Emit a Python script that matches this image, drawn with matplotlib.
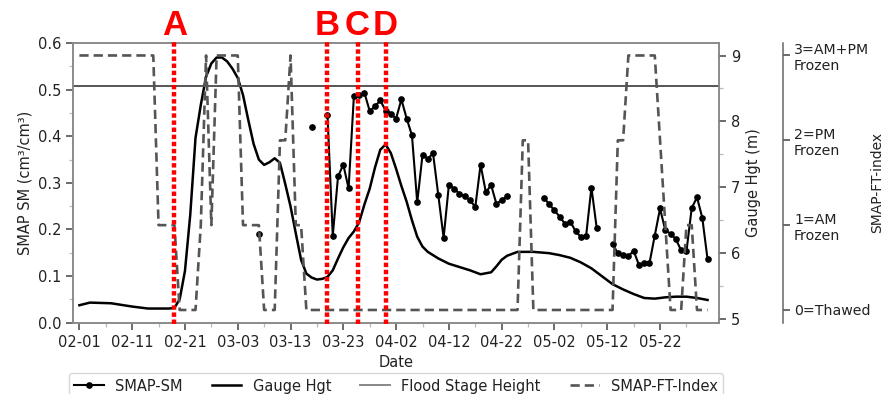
import numpy as np
import matplotlib
matplotlib.use("Agg")
import matplotlib.pyplot as plt
from matplotlib.lines import Line2D
import matplotlib.transforms as mtransforms

plt.rcParams['font.family'] = ['DejaVu Sans']
plt.rcParams['font.size'] = 10.5

# ---------------- data ----------------
start_date = '2017-02-01'

# SMAP soil moisture (cm3/cm3), day offsets from start_date
sm_days = [34, 44, 47, 48, 49, 50, 51, 52, 53, 54, 55, 56, 57, 58, 59, 60, 61, 62, 63, 64,
           65, 66, 67, 68, 69, 70, 71, 72, 73, 74, 75, 76, 77, 78, 79, 80, 81,
           88, 89, 90, 91, 92, 93, 94, 95, 96, 97, 98,
           101, 102, 103, 104, 105, 106, 107, 108, 109, 110, 111, 112, 113, 114, 115, 116, 117, 118, 119]
sm_vals = [0.190, 0.420, 0.445, 0.187, 0.314, 0.339, 0.288, 0.486, 0.488, 0.493, 0.454, 0.464, 0.477,
           0.455, 0.447, 0.438, 0.479, 0.438, 0.402, 0.258,
           0.360, 0.352, 0.363, 0.273, 0.182, 0.296, 0.287, 0.277, 0.271, 0.263, 0.248, 0.339, 0.280,
           0.295, 0.255, 0.263, 0.271,
           0.268, 0.254, 0.241, 0.227, 0.212, 0.217, 0.196, 0.184, 0.187, 0.290, 0.203,
           0.169, 0.149, 0.146, 0.143, 0.154, 0.124, 0.128, 0.128, 0.187, 0.245, 0.198, 0.191, 0.179,
           0.155, 0.153, 0.246, 0.269, 0.225, 0.136]

# Gauge height (m)
gauge_days = [0, 2, 6, 10, 13, 17, 18, 19, 20, 21, 22, 23, 24, 25, 26, 27, 28, 29, 30, 31, 32, 33,
              34, 35, 36, 37, 38, 39, 40, 41, 42, 43, 44, 45, 46, 47, 48, 49, 50, 51, 52, 53, 54,
              55, 56, 57, 58, 59, 60, 61, 62, 63, 64, 65, 66, 68, 70, 72, 74, 76, 78, 79, 80, 81,
              83, 86, 89, 91, 93, 95, 97, 99, 101, 103, 105, 107, 109, 111, 113, 115, 117, 119]
gauge_vals = [5.21, 5.25, 5.24, 5.19, 5.16, 5.16,
              5.17, 5.30, 5.73, 6.58, 7.75, 8.25, 8.68, 8.88, 8.97, 8.97,
              8.91, 8.80, 8.66, 8.40, 8.02, 7.66, 7.42, 7.34, 7.38, 7.44,
              7.37, 7.05, 6.71, 6.30, 5.90, 5.69, 5.63, 5.60, 5.61, 5.64,
              5.74, 5.92, 6.09, 6.23, 6.33, 6.47, 6.74, 6.98, 7.30, 7.57,
              7.65, 7.52, 7.28, 7.02, 6.78, 6.50, 6.25, 6.10, 6.02,
              5.92, 5.84, 5.79, 5.74, 5.68, 5.71, 5.80, 5.90, 5.96, 6.02, 6.02, 6.00, 5.97, 5.93,
              5.86, 5.77, 5.65, 5.53, 5.45, 5.38, 5.32, 5.31, 5.33, 5.34, 5.34, 5.32, 5.29]

flood_stage = 8.54

# SMAP freeze/thaw index, daily from start_date, as runs: level and number of days
ft_levels = [3, 1, 0, 1, 3, 1, 3, 1, 0, 2, 3, 1, 0, 2, 0, 2, 3, 2, 1, 0, 1, 0]
ft_run_days = [15, 4, 4, 1, 1, 1, 5, 4, 3, 2, 1, 2, 41, 2, 16, 2, 6, 1, 1, 3, 2, 3]

ft_tick_vals = [0, 1, 2, 3]
ft_tick_labels = ['0=Thawed', '1=AM\nFrozen', '2=PM\nFrozen', '3=AM+PM\nFrozen']

x_tick_labels = ['02-01', '02-11', '02-21', '03-03', '03-13', '03-23', '04-02',
                 '04-12', '04-22', '05-02', '05-12', '05-22']

event_labels = ['A', 'B', 'C', 'D']
event_dates = ['2017-02-19T00', '2017-03-20T00', '2017-03-25T17', '2017-03-31T00']

# ---------------- helpers ----------------
base = np.datetime64(start_date, 'h')


def days_to_dt(days):
    hrs = np.round(np.asarray(days, dtype=float) * 24).astype('int64')
    return base + hrs.astype('timedelta64[h]')


# break SM line at gaps
sm_x, sm_y = [], []
prev = None
for d, v in zip(sm_days, sm_vals):
    if prev is not None and d - prev > 1:
        sm_x.append(prev + 0.5)
        sm_y.append(np.nan)
    sm_x.append(d)
    sm_y.append(v)
    prev = d

ft_vals = np.repeat(ft_levels, ft_run_days)
ft_days = np.arange(len(ft_vals))

# ---------------- figure ----------------
fig = plt.figure(figsize=(8.9, 3.94), dpi=100)
ax = fig.add_axes([73 / 890, 1 - 322.7 / 394, 646 / 890, 279.7 / 394])
ax2 = ax.twinx()
ax3 = ax.twinx()
ax3.spines['right'].set_position(('axes', (783 - 73) / 646))

text_col = '#222222'
spine_col = '#888888'

# SMAP SM
ax.plot(days_to_dt(sm_x), sm_y, color='black', lw=1.5, marker='o', ms=3.8, zorder=3)
ax.set_ylim(0, 0.6)
ax.set_yticks(np.arange(0, 0.61, 0.1))
ax.set_yticks(np.arange(0.05, 0.6, 0.1), minor=True)
ax.set_yticklabels(['%.1f' % v for v in np.arange(0, 0.61, 0.1)])
ax.set_ylabel('SMAP SM (cm³/cm³)', color=text_col, fontsize=10.5)
ax.set_xlabel('Date', color=text_col, fontsize=10.5)

# Gauge
ax2.plot(days_to_dt(gauge_days), gauge_vals, color='black', lw=1.8)
ax2.axhline(flood_stage, color='#555555', lw=1.4)
ax2.set_ylim(4.945, 9.19)
ax2.set_yticks([5, 6, 7, 8, 9])
ax2.set_yticks([5.5, 6.5, 7.5, 8.5], minor=True)
ax2.set_ylabel('Gauge Hgt (m)', color=text_col, fontsize=10.5)

# FT index
ax3.plot(days_to_dt(ft_days), ft_vals, color='#555555', lw=1.9, dashes=(3.5, 1.9))
ax3.set_ylim(-0.15, 3.147)
ax3.set_yticks(ft_tick_vals)
ax3.set_yticklabels(ft_tick_labels)
ax3.set_ylabel('SMAP-FT-index', color=text_col, fontsize=10, labelpad=0)

# x axis
xmin = base - np.timedelta64(29, 'h')
xmax = base + np.timedelta64(int(121.2 * 24), 'h')
ax.set_xlim(xmin, xmax)
major_pos = days_to_dt([10 * i for i in range(len(x_tick_labels))])
ax.set_xticks(major_pos)
ax.set_xticklabels(x_tick_labels)
ax.set_xticks(days_to_dt(list(range(5, 125, 10))), minor=True)

for a in (ax, ax2, ax3):
    for s in a.spines.values():
        s.set_color(spine_col)
        s.set_linewidth(1.1)
    a.tick_params(which='major', length=5, width=1.1, color='#444444', labelcolor=text_col,
                  labelsize=10.5)
    a.tick_params(which='minor', length=3, width=0.9, color='#bbbbbb')
ax3.tick_params(axis='y', labelsize=10.2, pad=3)
ax3.spines['left'].set_visible(False)
ax3.spines['top'].set_visible(False)
ax3.spines['bottom'].set_visible(False)
ax3.spines['right'].set_color('#666666')

# event markers
trans = mtransforms.blended_transform_factory(ax3.transData, ax3.transAxes)
for lab, d in zip(event_labels, event_dates):
    xd = np.datetime64(d, 'h')
    ax3.plot([xd, xd], [-0.005, 1.006], transform=trans, color='#ff0000', lw=3.2,
             dashes=(1.0, 0.6), clip_on=False, zorder=10)
    ax3.text(xd, 1.029, lab, transform=trans, color='#ff0000', fontsize=25,
             fontweight='bold', family=['Liberation Sans', 'DejaVu Sans'],
             ha='center', va='baseline', clip_on=False)

# legend
handles = [
    Line2D([], [], color='black', lw=1.5, marker='o', ms=3.8, label='SMAP-SM'),
    Line2D([], [], color='black', lw=1.8, label='Gauge Hgt'),
    Line2D([], [], color='#888888', lw=1.4, label='Flood Stage Height'),
    Line2D([], [], color='#555555', lw=1.9, dashes=(3.5, 1.9), label='SMAP-FT-Index'),
]
cx = (73 + 646 / 2) / 890
fig.legend(handles=handles, loc='upper center', bbox_to_anchor=(cx, 1 - 372.7 / 394),
           ncol=4, frameon=True, fontsize=10.5, edgecolor='#cccccc', borderaxespad=0,
           labelcolor=text_col)

fig.savefig('out.png', dpi=100)
